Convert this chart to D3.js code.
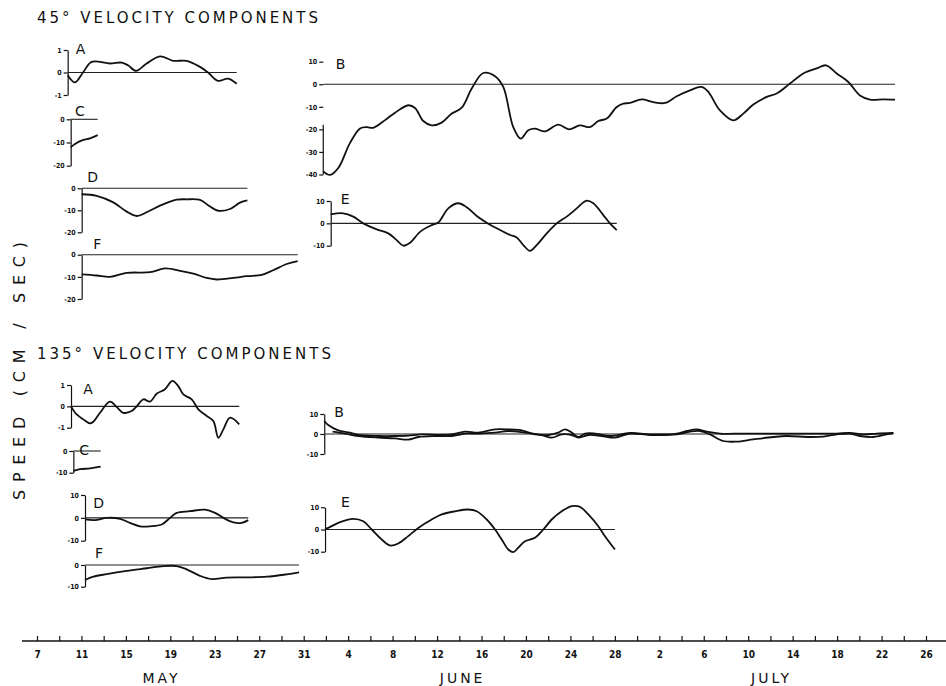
<!DOCTYPE html>
<html>
<head>
<meta charset="utf-8">
<script src="https://cdn.jsdelivr.net/npm/d3@7"></script>
<style>
body { margin: 0; background: #fff; }
svg { display: block; }
text { font-family: "DejaVu Sans", sans-serif; fill: #111; }
</style>
</head>
<body>
<svg id="chart" width="946" height="686"></svg>
<script>
// day numbers: May d = d, June d = 31 + d, July d = 61 + d
var dayTicks = d3.range(7, 88, 2);
var dayLabels = ['7', '11', '15', '19', '23', '27', '31', '4', '8', '12', '16', '20', '24', '28', '2', '6', '10', '14', '18', '22', '26'];
var months = ['MAY', 'JUNE', 'JULY'];
var monthDays = [18.2, 45.3, 73.1];

// 45 degree components
var a45 = [[9.76,-0.12],[10.42,-0.44],[11.14,0],[11.92,0.47],[13.57,0.4],[14.62,0.44],[15.19,0.32],[15.91,0.07],[16.87,0.4],[18.07,0.72],[19.24,0.52],[20.47,0.52],[21.67,0.25],[22.39,0],[23.29,-0.37],[24.19,-0.27],[24.97,-0.5]];
var c45 = [[10.03,-12.1],[10.42,-10.6],[11.17,-8.9],[11.77,-8.2],[12.46,-6.8]];
var d45 = [[11.02,-2.7],[12.37,-3.4],[13.87,-6.4],[15.07,-10.6],[15.97,-12.6],[16.87,-10.9],[18.07,-7.9],[19.57,-5.2],[20.47,-5.0],[21.67,-5.3],[22.57,-8.3],[23.32,-10.2],[24.37,-9.4],[25.27,-6.5],[25.93,-5.5]];
var f45 = [[11.02,-8.9],[12.37,-9.4],[13.57,-10],[15.07,-8.2],[17.17,-7.9],[18.52,-6.2],[19.87,-7.3],[21.07,-8.5],[22.27,-10.5],[23.17,-11.2],[24.67,-10.5],[25.87,-9.7],[27.22,-9.1],[28.26,-7.0],[29.47,-4.2],[30.46,-2.9]];
var b45 = [[32.76,-38.6],[33.37,-40.2],[34.11,-37.1],[35.17,-26],[36.07,-19.6],[36.67,-19],[37.26,-19.3],[38.32,-15.9],[39.22,-12.6],[40.41,-9.3],[41.02,-10.5],[41.76,-16.3],[42.52,-18.2],[43.42,-17],[44.32,-13],[45.22,-10.4],[46.12,-1.9],[47.16,5],[48.22,3.6],[48.96,-1.2],[49.86,-19],[50.53,-24.1],[51.21,-20.4],[51.81,-19.7],[52.71,-20.9],[53.91,-17.9],[54.87,-20],[55.86,-18.2],[56.76,-19],[57.51,-16.3],[58.27,-15.2],[59.17,-10.1],[59.76,-8.6],[60.36,-8.3],[61.42,-6.7],[62.46,-7.9],[63.51,-8.3],[64.57,-5.3],[65.76,-2.7],[66.81,-1.2],[67.41,-3.4],[68.46,-11.6],[69.66,-16],[70.56,-13],[71.46,-9],[72.67,-5.6],[73.56,-4.1],[74.76,0.3],[75.96,4.8],[77.16,7],[78.0,8.4],[78.96,4.8],[80.01,1],[81.06,-5],[81.96,-6.8],[83.16,-6.7],[84.21,-6.8]];
var e45 = [[33.43,4],[34.56,4.5],[35.46,3],[36.36,0],[37.57,-2.7],[38.61,-4.5],[39.37,-7.5],[39.96,-10],[40.57,-8.7],[41.47,-3.8],[42.52,-0.8],[43.11,0.4],[44.01,6.7],[44.91,9],[45.67,7.2],[46.57,3.3],[47.47,0.3],[48.37,-2.2],[49.57,-5.2],[50.17,-6.3],[50.76,-9.7],[51.36,-12.3],[51.97,-9.7],[52.87,-4.5],[53.77,0],[54.67,3],[55.57,6.7],[56.41,10.1],[57.06,9],[57.96,3.7],[58.56,0],[59.17,-3]];

// 135 degree components
var a135 = [[10.06,0],[10.57,-0.38],[11.17,-0.61],[11.77,-0.8],[12.07,-0.72],[12.67,-0.3],[13.57,0.22],[14.17,-0.03],[14.77,-0.3],[15.52,-0.22],[15.97,0],[16.57,0.33],[17.17,0.22],[17.77,0.59],[18.52,0.8],[19.18,1.19],[19.71,0.95],[20.17,0.56],[20.92,0.33],[21.52,-0.14],[22.27,-0.45],[22.87,-0.69],[23.32,-1.47],[23.77,-1.08],[24.37,-0.53],[25.2,-0.84]];
var c135 = [[10.27,-9.2],[10.87,-8.4],[11.77,-8],[12.73,-7.2]];
var d135 = [[11.32,-0.7],[12.22,-1],[13.27,0],[14.47,-0.4],[15.37,-2.2],[16.27,-3.7],[17.17,-3.7],[18.22,-2.9],[18.97,0],[19.57,2.2],[20.77,2.9],[22.12,3.6],[23.02,2.2],[23.77,0],[24.67,-2],[25.42,-2.2],[26.01,-1]];
var f135 = [[11.32,-6.9],[12.07,-5.4],[13.27,-4.2],[15.07,-2.7],[16.87,-1.5],[18.37,-0.5],[19.57,-0.5],[20.47,-2],[21.67,-5],[22.72,-6.5],[24.07,-5.8],[25.87,-5.7],[27.67,-5.4],[29.47,-4.3],[30.58,-3.4]];
var b135a = [[32.85,6.5],[33.21,4.5],[34.11,1.8],[35.17,0.7],[35.91,-0.5],[37.71,-1],[39.22,-1],[40.41,-0.8],[41.62,-0.2],[43.11,-0.5],[44.32,-0.2],[45.52,1.2],[46.71,0.7],[48.22,2.3],[49.41,2.3],[50.62,1.8],[51.81,-0.2],[53.01,-0.5],[53.91,0.7],[54.51,2.3],[55.12,0.7],[55.71,-1.5],[56.31,0.2],[57.21,0.2],[58.56,-1],[60.36,0.5],[62.16,-0.2],[64.57,0.2],[65.47,1.5],[66.36,2.3],[67.26,1.2],[68.46,0.2],[70.56,0.2],[73.56,0.2],[76.56,0.2],[78.96,0.2],[80.16,0.5],[81.36,-0.2],[82.56,0.2],[84.06,0.5]];
var b135b = [[33.6,1.2],[34.72,0.2],[35.91,-1],[37.71,-1.8],[39.22,-2.2],[40.41,-2.8],[41.31,-1.5],[42.82,-1],[44.32,-1],[45.52,0.2],[46.71,0.2],[48.22,0.7],[49.41,1.5],[50.91,0.7],[52.42,-0.5],[53.32,-1.8],[54.22,-0.2],[55.12,-0.5],[55.71,-1.8],[56.61,-0.5],[57.81,-1],[59.01,-1.8],[60.36,0.2],[62.16,-0.5],[64.57,-0.2],[65.76,1.2],[66.66,1.5],[67.56,-0.2],[68.76,-3.5],[69.96,-3.8],[71.46,-2.7],[73.26,-1.5],[74.46,-1],[76.56,-1.5],[77.76,-1.3],[78.96,-0.2],[80.16,0.2],[81.06,-1],[82.26,-1.5],[83.46,-0.2],[84.06,0.5]];
var e135 = [[32.92,0.3],[33.21,0.7],[34.11,3],[35.46,4.8],[36.36,3.7],[37.12,0],[38.02,-4.5],[38.77,-7.2],[39.51,-6.3],[40.41,-3],[41.31,0.7],[42.52,4.5],[43.42,6.8],[44.62,8.2],[45.81,9],[46.57,8.2],[47.47,4.5],[48.22,0],[48.82,-4.5],[49.41,-9],[49.86,-10.2],[50.31,-8.2],[50.91,-5.3],[51.81,-3.7],[52.56,0],[53.32,4.5],[54.22,8.2],[55.12,10.5],[55.86,10.2],[56.61,6.8],[57.51,1.5],[58.11,-3],[59.01,-9]];

// small panels: value domain -> pixel band, tick values, letter offset from the top tick
var panels = [
  {name: 'A', series: [a45], domain: [-1, 1], range: [95, 50], ticks: [1, 0, -1], lab: [8, -1.5]},
  {name: 'C', series: [c45], domain: [-20, 0], range: [165.7, 119.3], ticks: [0, -10, -20], lab: [4.3, -8]},
  {name: 'D', series: [d45], domain: [-20, 0], range: [232.3, 188.3], ticks: [0, -10, -20], lab: [5.7, -11]},
  {name: 'F', series: [f45], domain: [-20, 0], range: [299, 254.7], ticks: [0, -10, -20], lab: [11.7, -11]},
  {name: 'B', series: [b45], domain: [-40, 10], range: [174.5, 61.7], ticks: [10, 0, -10, -20, -30, -40], lab: [12.4, 2], spineFrom: -18},
  {name: 'E', series: [e45], domain: [-10, 10], range: [245.7, 201], ticks: [10, 0, -10], lab: [10, -2.5]},
  {name: 'A', series: [a135], domain: [-1, 1], range: [427.7, 385], ticks: [1, 0, -1], lab: [12.3, 3.5]},
  {name: 'C', series: [c135], domain: [-10, 0], range: [472.7, 451], ticks: [0, -10], lab: [6, -1]},
  {name: 'D', series: [d135], domain: [-10, 10], range: [540.7, 495], ticks: [10, 0, -10], lab: [8.3, 7.5]},
  {name: 'F', series: [f135], domain: [-10, 0], range: [586.7, 565], ticks: [0, -10], lab: [10, -12]},
  {name: 'B', series: [b135a, b135b], domain: [-10, 10], range: [454, 414], ticks: [10, 0, -10], lab: [10, -2]},
  {name: 'E', series: [e135], domain: [-10, 10], range: [551.7, 507.3], ticks: [10, 0, -10], lab: [16, -5.6]}
];

var x = d3.scaleLinear().domain([7, 87]).range([37, 926]);
var svg = d3.select('#chart');

// titles
svg.append('text').attr('x', 37).attr('y', 23)
  .attr('textLength', 281).attr('lengthAdjust', 'spacing')
  .style('font-size', '15px').text('45° VELOCITY COMPONENTS');
svg.append('text').attr('x', 37).attr('y', 359)
  .attr('textLength', 294).attr('lengthAdjust', 'spacing')
  .style('font-size', '15px').text('135° VELOCITY COMPONENTS');
svg.append('text').attr('transform', 'translate(25,500) rotate(-90)')
  .attr('textLength', 258).attr('lengthAdjust', 'spacing')
  .style('font-size', '16px').text('SPEED  (CM / SEC)');

panels.forEach(function(p) {
  var y = d3.scaleLinear().domain(p.domain).range(p.range);
  var first = p.series[0][0][0];
  var last = d3.max(p.series, function(s) { return s[s.length - 1][0]; });
  var x0 = x(first);
  var g = svg.append('g');

  var ax = g.append('g').attr('transform', 'translate(' + x0 + ',0)')
    .call(d3.axisLeft(y).tickValues(p.ticks).tickSizeInner(4).tickSizeOuter(0)
      .tickPadding(2).tickFormat(String));
  ax.attr('font-family', null).attr('font-size', null);
  ax.selectAll('path, line').attr('stroke', '#111').attr('stroke-width', 1.2);
  ax.selectAll('text').style('font', 'bold 7px "DejaVu Sans Condensed", sans-serif').attr('fill', '#111');
  if (p.spineFrom !== undefined) {
    // the scanned spine is only inked on its lower part
    ax.select('.domain').attr('d', 'M0,' + y(p.spineFrom) + 'V' + y(p.domain[0]));
  }

  g.append('line')
    .attr('x1', x0).attr('x2', x(last))
    .attr('y1', y(0)).attr('y2', y(0))
    .attr('stroke', '#222').attr('stroke-width', 1.1);

  var line = d3.line()
    .x(function(d) { return x(d[0]); })
    .y(function(d) { return y(d[1]); })
    .curve(d3.curveCatmullRom.alpha(0.5));
  p.series.forEach(function(s) {
    g.append('path').attr('d', line(s))
      .attr('fill', 'none').attr('stroke', '#111').attr('stroke-width', 1.8);
  });

  g.append('text')
    .attr('x', x0 + p.lab[0])
    .attr('y', y(d3.max(p.ticks)) + p.lab[1])
    .attr('dy', '0.36em')
    .style('font-size', '14px')
    .text(p.name);
});

// time axis
var axisG = svg.append('g').attr('transform', 'translate(0,641)')
  .call(d3.axisBottom(x).tickValues(dayTicks).tickSizeInner(-5).tickSizeOuter(0).tickPadding(10)
    .tickFormat(function(d, i) { return i % 2 ? '' : dayLabels[i / 2]; }));
axisG.select('.domain').remove();
axisG.attr('font-family', null).attr('font-size', null);
axisG.selectAll('line').attr('stroke', '#111').attr('stroke-width', 1.2);
axisG.selectAll('text').style('font', 'bold 10px "DejaVu Sans Condensed", sans-serif').attr('fill', '#111');
axisG.append('line').attr('x1', 22).attr('x2', 946).attr('y1', 0).attr('y2', 0)
  .attr('stroke', '#111').attr('stroke-width', 1.6);

svg.selectAll('.month').data(months).enter().append('text')
  .attr('class', 'month')
  .attr('x', function(d, i) { return x(monthDays[i]); })
  .attr('y', 683)
  .attr('text-anchor', 'middle')
  .style('font-size', '14px')
  .style('letter-spacing', '3px')
  .text(function(d) { return d; });
</script>
</body>
</html>
